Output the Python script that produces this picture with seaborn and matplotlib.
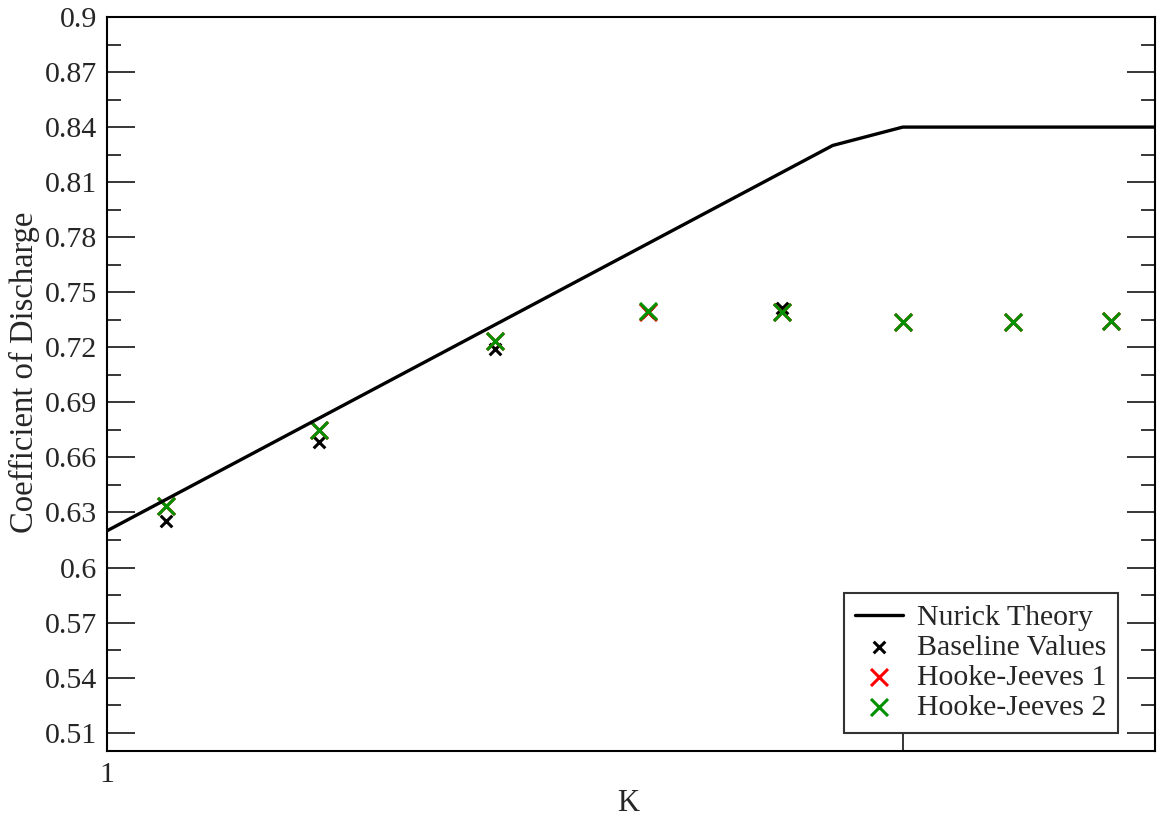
import matplotlib
matplotlib.use("Agg")
import matplotlib.pyplot as plt
import seaborn as sns
import numpy as np
import pandas as pd
from matplotlib.ticker import MultipleLocator, FixedLocator

# ---- data ----
theory_k = [1.0, 1.912, 2.0, 2.317]
theory_cd = [0.620, 0.830, 0.840, 0.840]

k_points = [1.074, 1.266, 1.487, 1.680, 1.848, 2.0, 2.138, 2.262]
baseline_k = [1.074, 1.266, 1.487, 1.680, 1.848]
baseline_cd = [0.6255, 0.6685, 0.7192, 0.7395, 0.7415]
hj1_k = [1.074, 1.266, 1.487, 1.680, 1.848, 2.0, 2.138, 2.262]
hj1_cd = [0.6335, 0.6750, 0.7233, 0.7395, 0.7393, 0.7339, 0.7339, 0.7345]
hj2_cd = [0.6337, 0.6750, 0.7235, 0.7400, 0.7393, 0.7339, 0.7339, 0.7345]

y_ticks = [0.51, 0.54, 0.57, 0.60, 0.63, 0.66, 0.69, 0.72, 0.75, 0.78, 0.81, 0.84, 0.87, 0.90]
y_labels = ["0.51", "0.54", "0.57", "0.6", "0.63", "0.66", "0.69", "0.72", "0.75", "0.78", "0.81", "0.84", "0.87", "0.9"]

sns.set_style("ticks")
plt.rcParams['font.family'] = ['Liberation Serif', 'DejaVu Serif']
plt.rcParams['font.size'] = 21.5

fig = plt.figure(figsize=(11.61, 8.16), dpi=100)
ax = fig.add_axes([107/1161, 1-751/816, (1155-107)/1161, (751-17)/816])

sns.lineplot(x=theory_k, y=theory_cd, ax=ax, color="black", lw=2.4, label="Nurick Theory", sort=False)
sns.scatterplot(x=baseline_k, y=baseline_cd, ax=ax, marker="x", color="black", s=70, linewidth=2.2, label="Baseline Values")
sns.scatterplot(x=hj1_k, y=hj1_cd, ax=ax, marker="x", color="#ff0000", s=150, linewidth=2.2, label="Hooke-Jeeves 1")
sns.scatterplot(x=k_points, y=hj2_cd, ax=ax, marker="x", color="#009000", s=150, linewidth=2.2, label="Hooke-Jeeves 2")

ax.set_xlim(1.0, 2.317)
ax.set_ylim(0.5, 0.9)
ax.yaxis.set_major_locator(FixedLocator(y_ticks))
ax.set_yticklabels(y_labels)
ax.yaxis.set_minor_locator(MultipleLocator(0.015))
ax.xaxis.set_major_locator(FixedLocator([1.0, 2.0]))
ax.set_xticklabels(["1", ""])

ax.tick_params(axis="y", which="major", direction="in", length=20, width=1.3, right=True, labelsize=21.5, pad=7)
ax.tick_params(axis="y", which="minor", direction="in", length=10, width=1.3, right=True)
ax.tick_params(axis="x", which="major", direction="in", length=12, width=1.3, top=False, labelsize=21.5, pad=8)
for s in ax.spines.values():
    s.set_linewidth(1.5)
    s.set_color("black")

ax.set_xlabel("K", fontsize=22)
ax.xaxis.set_label_coords(0.497, -0.052)
ax.set_ylabel("Coefficient of Discharge", fontsize=23.5)
ax.yaxis.set_label_coords(-0.064, 0.516)

leg = ax.legend(loc="lower right", frameon=True, fancybox=False, edgecolor="black", fontsize=21.5,
                handlelength=1.6, handletextpad=0.45, borderpad=0.4, labelspacing=0.1, borderaxespad=0)
leg.get_frame().set_linewidth(1.5)
leg.set_bbox_to_anchor((1118/1161, 1-733/816), transform=fig.transFigure)

fig.savefig("out.png", dpi=100)
